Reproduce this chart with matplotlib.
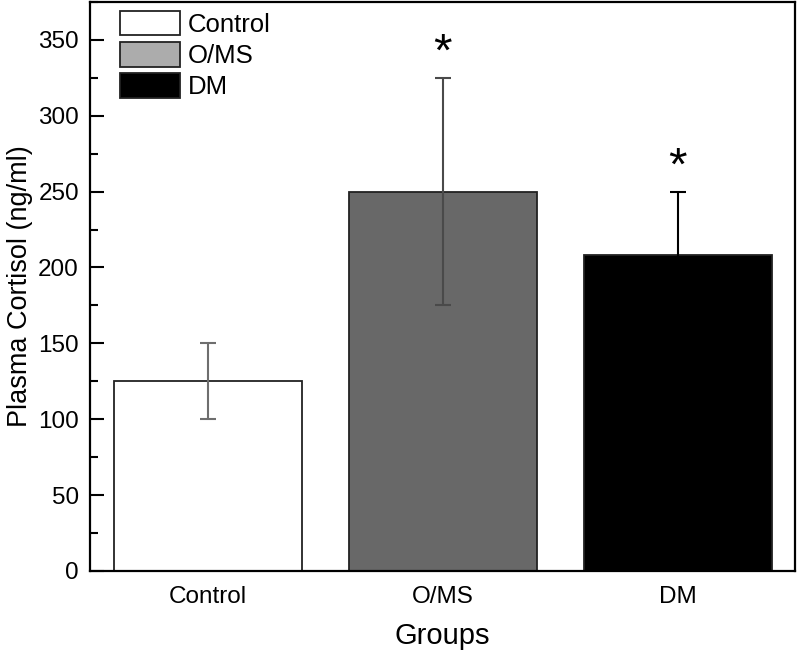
import matplotlib
matplotlib.use('Agg')
import matplotlib.pyplot as plt
from matplotlib.patches import Patch
from matplotlib.ticker import MultipleLocator

plt.rcParams['font.family'] = ['Liberation Sans', 'DejaVu Sans']

groups = ['Control', 'O/MS', 'DM']
cortisol = [125, 250, 208]
err = [25, 75, 42]
significant = [False, True, True]
bar_colors = ['white', '#686868', 'black']
legend_colors = ['white', '#acacac', 'black']
err_colors = ['#6e6e6e', '#4a4a4a', 'black']

fig = plt.figure(figsize=(8, 6.54), dpi=100)
ax = fig.add_axes([0.1125, 0.127, 0.8813, 0.870])

x = list(range(len(groups)))
ax.bar(x, cortisol, width=0.8, color=bar_colors, edgecolor='#222222', linewidth=1.3, zorder=2)
for i in x:
    ax.errorbar(i, cortisol[i], yerr=err[i], fmt='none', ecolor=err_colors[i],
                elinewidth=1.5, capsize=6, capthick=1.5, zorder=3)
    if significant[i]:
        ax.text(i, cortisol[i] + err[i] + 16, '*', ha='center', va='center', fontsize=34)

ax.set_xlim(-0.5, 2.5)
ax.set_ylim(0, 375)
ax.set_xticks(x)
ax.set_xticklabels(groups, fontsize=17.5)
ax.tick_params(axis='x', length=0, pad=11)
ax.yaxis.set_major_locator(MultipleLocator(50))
ax.yaxis.set_minor_locator(MultipleLocator(25))
ax.tick_params(axis='y', which='major', direction='in', length=10, width=1.5, labelsize=17.5, pad=8)
ax.tick_params(axis='y', which='minor', direction='in', length=6, width=1.5)
for s in ax.spines.values():
    s.set_linewidth(1.6)

ax.set_ylabel('Plasma Cortisol (ng/ml)', fontsize=19.5, labelpad=4)
ax.set_xlabel('Groups', fontsize=21, labelpad=10)

handles = [Patch(facecolor=c, edgecolor='#222222', linewidth=1.3) for c in legend_colors]
ax.legend(handles, groups, loc='upper left', bbox_to_anchor=(0.03, 1.0), frameon=False,
          fontsize=18.5, handlelength=2.33, handleheight=1.09, labelspacing=0.2,
          handletextpad=0.3, borderaxespad=0.0, borderpad=0.35)

fig.savefig('out.png', dpi=100)
